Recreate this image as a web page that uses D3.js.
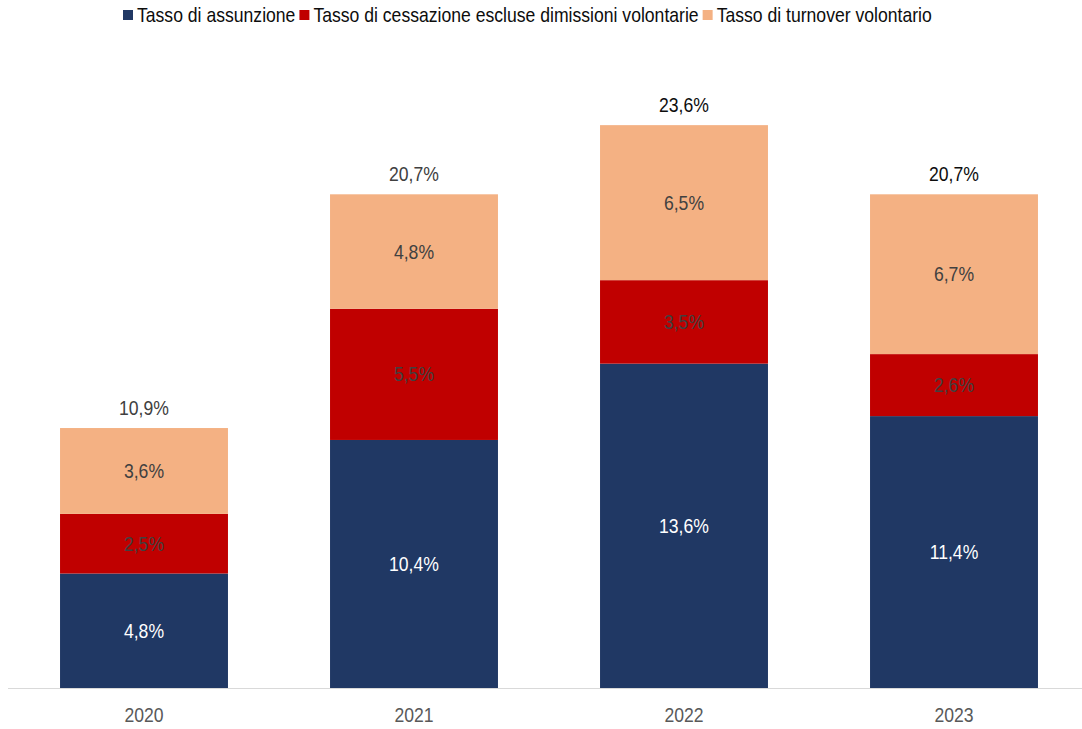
<!DOCTYPE html>
<html><head><meta charset="utf-8">
<script src="https://cdn.jsdelivr.net/npm/d3@7"></script>
<style>
html,body{margin:0;padding:0;background:#fff;}
svg{display:block;font-family:"Liberation Sans Narrow","Arial Narrow","Liberation Sans",sans-serif;}
</style></head>
<body><svg id="c" width="1082" height="729"></svg>
<script>
const years = ["2020","2021","2022","2023"];
const seriesNames = ["Tasso di assunzione","Tasso di cessazione escluse dimissioni volontarie","Tasso di turnover volontario"];
const assunzione = [4.8,10.4,13.6,11.4];
const cessazione = [2.5,5.5,3.5,2.6];
const turnover = [3.6,4.8,6.5,6.7];
const totals = [10.9,20.7,23.6,20.7];
const colors = ["#203864","#C00000","#F4B183"];
const labelColors = ["#ffffff","#404040","#404040"];

const SX = 0.88, FS = 20;
const svg = d3.select("#c");
const fmt = v => d3.format(".1f")(v).replace(".", ",") + "%";

const x = d3.scaleBand().domain(years).range([9,1089]).paddingInner(0.378).paddingOuter(0.189);
const y = d3.scaleLinear().domain([0,25]).range([688, 688-25*23.85]);

const rows = years.map((yr,i)=>({year:yr, a:assunzione[i], c:cessazione[i], t:turnover[i]}));
const layers = d3.stack().keys(["a","c","t"])(rows);

layers.forEach((layer,li)=>{
  svg.append("g").selectAll("rect").data(layer).join("rect")
    .attr("x", d=>x(d.data.year))
    .attr("width", x.bandwidth())
    .attr("y", d=>y(d[1]))
    .attr("height", d=>y(d[0])-y(d[1]))
    .attr("fill", colors[li]);
  svg.append("g").attr("transform",`scale(${SX},1)`).selectAll("text").data(layer).join("text")
    .attr("x", d=>(x(d.data.year)+x.bandwidth()/2)/SX)
    .attr("y", d=>(y(d[0])+y(d[1]))/2)
    .attr("dy","0.35em")
    .attr("text-anchor","middle")
    .attr("font-size",FS)
    .attr("fill", labelColors[li])
    .text(d=>fmt(d[1]-d[0]));
});

// totals
svg.append("g").attr("transform",`scale(${SX},1)`).selectAll("text").data(years).join("text")
  .attr("x", d=>(x(d)+x.bandwidth()/2)/SX)
  .attr("y", (d,i)=>y(totals[i])-13)
  .attr("text-anchor","middle")
  .attr("font-size",FS)
  .attr("fill",(d,i)=> i<2 ? "#404040" : "#0d0d0d")
  .text((d,i)=>fmt(totals[i]));

// axis
const ax = svg.append("g").attr("transform","translate(0,688)")
  .call(d3.axisBottom(x).tickSize(0).tickPadding(20));
ax.select(".domain").attr("stroke","#d9d9d9").attr("d","M8,0.5H1082");
ax.selectAll(".tick text").attr("font-size",FS).attr("fill","#595959")
  .attr("font-family","'Liberation Sans Narrow','Arial Narrow','Liberation Sans',sans-serif")
  .attr("transform",`scale(${SX},1)`);

// legend
const lg = svg.append("g");
let lx = 123;
seriesNames.forEach((n,i)=>{
  lg.append("rect").attr("x",lx).attr("y",10).attr("width",10).attr("height",10).attr("fill",colors[i]);
  const t = lg.append("text").attr("x",(lx+14)/SX).attr("y",15).attr("dy","0.35em")
    .attr("transform",`scale(${SX},1)`)
    .attr("font-size",FS).attr("fill","#0d0d0d").text(n);
  lx += 14 + t.node().getComputedTextLength()*SX + 4;
});
</script></body></html>
